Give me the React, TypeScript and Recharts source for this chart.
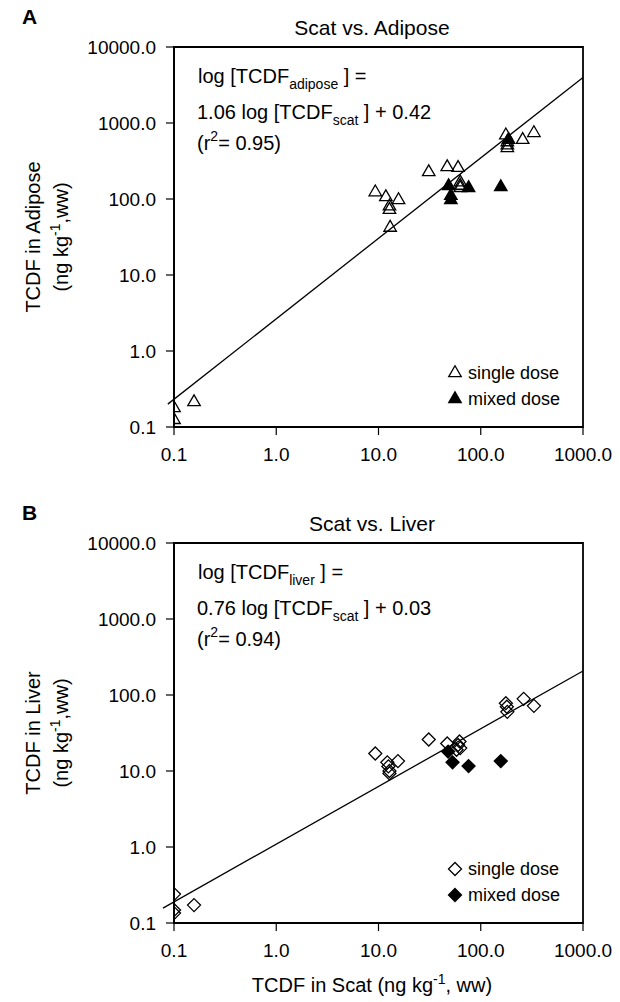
import React from 'react';
import { ScatterChart, Scatter, XAxis, YAxis, ReferenceLine, ReferenceArea } from 'recharts';

const xTicks = [0.1, 1, 10, 100, 1000];
const yTicks = [0.1, 1, 10, 100, 1000, 10000];

const adiposeSingle = [
  { x: 0.1, y: 0.178 }, { x: 0.1, y: 0.124 }, { x: 0.157, y: 0.213 },
  { x: 9.3, y: 123 }, { x: 11.8, y: 106 }, { x: 15.7, y: 97 }, { x: 12.8, y: 80 }, { x: 12.8, y: 72 }, { x: 13, y: 42 },
  { x: 31, y: 226 }, { x: 47, y: 263 }, { x: 60, y: 257 },
  { x: 63, y: 166 }, { x: 63, y: 150 }, { x: 63, y: 140 },
  { x: 176, y: 690 }, { x: 182, y: 560 }, { x: 182, y: 510 }, { x: 182, y: 470 }, { x: 257, y: 600 }, { x: 331, y: 740 },
];
const adiposeMixed = [
  { x: 48.5, y: 148 }, { x: 51, y: 110 }, { x: 51, y: 97 }, { x: 76, y: 140 }, { x: 157, y: 144 }, { x: 187, y: 600 },
];
const liverSingle = [
  { x: 0.1, y: 0.24 }, { x: 0.1, y: 0.148 }, { x: 0.1, y: 0.135 }, { x: 0.157, y: 0.172 },
  { x: 9.3, y: 17 }, { x: 12.2, y: 13 }, { x: 12.5, y: 11.5 }, { x: 12.8, y: 10 }, { x: 12.8, y: 9.3 }, { x: 15.5, y: 13.5 },
  { x: 31, y: 26 }, { x: 47, y: 23 }, { x: 60, y: 22 }, { x: 62, y: 24.5 }, { x: 63, y: 20 }, { x: 58, y: 19 },
  { x: 176, y: 78 }, { x: 180, y: 70 }, { x: 182, y: 60 }, { x: 263, y: 89 }, { x: 331, y: 72 },
];
const liverMixed = [
  { x: 48, y: 18 }, { x: 53, y: 13 }, { x: 76, y: 11.6 }, { x: 157, y: 13.5 },
];
const adiposeFit = [{ x: 0.087, y: 0.2 }, { x: 1000, y: 3980 }];
const liverFit = [{ x: 0.078, y: 0.157 }, { x: 1000, y: 207 }];

const FONT = '"Liberation Sans", Arial, Helvetica, sans-serif';

const fmt = (v: number) => v.toFixed(1);

const triangle = (filled: boolean) => (props: any) => {
  const { cx, cy } = props;
  if (cx == null || cy == null) return null;
  const s = 12.5;
  const h = s * 0.866;
  const d = `M${cx},${cy - (2 * h) / 3} L${cx + s / 2},${cy + h / 3} L${cx - s / 2},${cy + h / 3} Z`;
  return <path d={d} fill={filled ? '#000' : 'none'} stroke="#000" strokeWidth={1.3} />;
};

const diamond = (filled: boolean) => (props: any) => {
  const { cx, cy } = props;
  if (cx == null || cy == null) return null;
  const r = 6.5;
  const d = `M${cx},${cy - r} L${cx + r},${cy} L${cx},${cy + r} L${cx - r},${cy} Z`;
  return <path d={d} fill={filled ? '#000' : 'none'} stroke="#000" strokeWidth={1.3} />;
};

const tickStyle = { fill: '#000', fontSize: 19, fontFamily: FONT };

function Panel(props: { single: any[]; mixed: any[]; fit: any[]; open: any; filled: any }) {
  const { single, mixed, fit, open, filled } = props;
  return (
    <ScatterChart width={620} height={496} margin={{ top: 47, right: 37, bottom: 29, left: 0 }}>
      <XAxis
        type="number"
        dataKey="x"
        scale="log"
        domain={[0.1, 1000]}
        ticks={xTicks}
        interval={0}
        allowDataOverflow
        tickFormatter={fmt}
        tickSize={8}
        tickMargin={13}
        height={40}
        tick={tickStyle}
        axisLine={{ stroke: '#000', strokeWidth: 1.8 }}
        tickLine={{ stroke: '#000', strokeWidth: 1.2 }}
      />
      <YAxis
        type="number"
        dataKey="y"
        scale="log"
        domain={[0.1, 10000]}
        ticks={yTicks}
        interval={0}
        allowDataOverflow
        tickFormatter={fmt}
        tickSize={8}
        tickMargin={10}
        width={174}
        tick={tickStyle}
        axisLine={{ stroke: '#000', strokeWidth: 1.8 }}
        tickLine={{ stroke: '#000', strokeWidth: 1.2 }}
      />
      <ReferenceArea x1={0.1} x2={1000} y1={0.1} y2={10000} fill="none" stroke="#000" strokeWidth={1.8} ifOverflow="visible" />
      <ReferenceLine segment={fit} stroke="#000" strokeWidth={1.3} ifOverflow="visible" />
      <Scatter data={single} shape={open} isAnimationActive={false} />
      <Scatter data={mixed} shape={filled} isAnimationActive={false} />
    </ScatterChart>
  );
}

function Overlay() {
  const sub = 14;
  const eq = 20;
  const legend = (top: number, kind: 'tri' | 'dia') => {
    const ys = [top, top + 26];
    const icon = (y: number, f: boolean) => {
      const cx = 455;
      const cy = y - 6;
      if (kind === 'tri') {
        const s = 12.5, h = s * 0.866;
        return <path d={`M${cx},${cy - (2 * h) / 3} L${cx + s / 2},${cy + h / 3} L${cx - s / 2},${cy + h / 3} Z`} fill={f ? '#000' : 'none'} stroke="#000" strokeWidth={1.3} />;
      }
      const r = 6.5;
      return <path d={`M${cx},${cy - r} L${cx + r},${cy} L${cx},${cy + r} L${cx - r},${cy} Z`} fill={f ? '#000' : 'none'} stroke="#000" strokeWidth={1.3} />;
    };
    return (
      <g>
        {icon(ys[0], false)}
        <text x={468} y={ys[0]} fontSize={18}>single dose</text>
        {icon(ys[1], true)}
        <text x={468} y={ys[1]} fontSize={18}>mixed dose</text>
      </g>
    );
  };
  const eqBlock = (top: number, tissue: string, slope: string, icpt: string, r2: string) => (
    <g fontSize={eq}>
      <text x={198} y={top + 36}>
        log [TCDF<tspan dy={6} fontSize={sub}>{tissue}</tspan><tspan dy={-6}> ] =</tspan>
      </text>
      <text x={197} y={top + 72}>
        {slope} log [TCDF<tspan dy={6} fontSize={sub}>scat</tspan><tspan dy={-6}> ] + {icpt}</tspan>
      </text>
      <text x={197} y={top + 103}>
        (r<tspan dy={-9} fontSize={sub}>2</tspan><tspan dy={9}>= {r2})</tspan>
      </text>
    </g>
  );
  const yLabel = (cy: number, tissue: string) => (
    <g fontSize={20}>
      <text transform={`rotate(-90 40 ${cy})`} x={40} y={cy} textAnchor="middle">TCDF in {tissue}</text>
      <text transform={`rotate(-90 68 ${cy})`} x={68} y={cy} textAnchor="middle">
        (ng kg<tspan dy={-8} fontSize={sub}>-1</tspan><tspan dy={8}>,ww)</tspan>
      </text>
    </g>
  );
  return (
    <svg width={620} height={1002} style={{ position: 'absolute', left: 0, top: 0, pointerEvents: 'none' }} fontFamily={FONT} fill="#000">
      <text x={22} y={24} fontSize={21} fontWeight="bold">A</text>
      <text x={22} y={520} fontSize={21} fontWeight="bold">B</text>
      <text x={372} y={35} fontSize={21} textAnchor="middle">Scat vs. Adipose</text>
      <text x={372} y={531} fontSize={21} textAnchor="middle">Scat vs. Liver</text>
      {eqBlock(47, 'adipose', '1.06', '0.42', '0.95')}
      {eqBlock(543, 'liver', '0.76', '0.03', '0.94')}
      {legend(379, 'tri')}
      {legend(875, 'dia')}
      {yLabel(237, 'Adipose')}
      {yLabel(733, 'Liver')}
      <text x={372} y={992} fontSize={20} textAnchor="middle">
        TCDF in Scat (ng kg<tspan dy={-8} fontSize={sub}>-1</tspan><tspan dy={8}>, ww)</tspan>
      </text>
    </svg>
  );
}

export default function App() {
  return (
    <div style={{ position: 'absolute', left: 0, top: 0, width: 620, height: 1002, background: '#fff', fontFamily: FONT }}>
      <div style={{ position: 'absolute', left: 0, top: 0 }}>
        <Panel single={adiposeSingle} mixed={adiposeMixed} fit={adiposeFit} open={triangle(false)} filled={triangle(true)} />
      </div>
      <div style={{ position: 'absolute', left: 0, top: 496 }}>
        <Panel single={liverSingle} mixed={liverMixed} fit={liverFit} open={diamond(false)} filled={diamond(true)} />
      </div>
      <Overlay />
    </div>
  );
}
